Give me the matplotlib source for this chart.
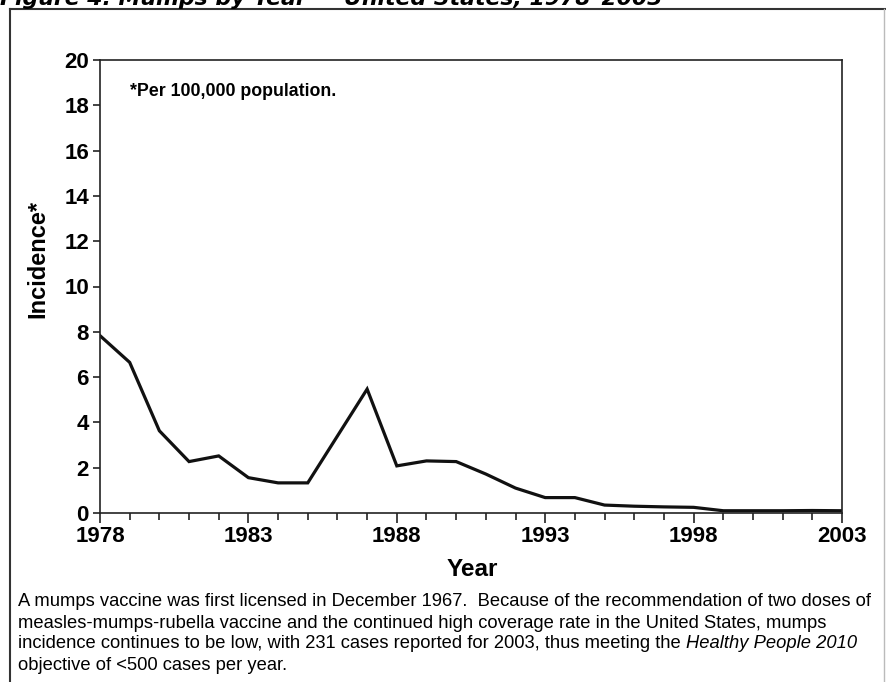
import matplotlib
matplotlib.use("Agg")
import matplotlib.pyplot as plt
from matplotlib.lines import Line2D

years = list(range(1978, 2004))
incidence = [7.83, 6.65, 3.63, 2.27, 2.52, 1.56, 1.33, 1.33, 3.4, 5.47,
             2.08, 2.3, 2.27, 1.72, 1.1, 0.68, 0.68, 0.35, 0.3, 0.27,
             0.25, 0.1, 0.1, 0.1, 0.11, 0.1]
major_years = [1978, 1983, 1988, 1993, 1998, 2003]
y_ticks = [0, 2, 4, 6, 8, 10, 12, 14, 16, 18, 20]

plt.rcParams['font.family'] = ['Liberation Sans', 'DejaVu Sans']

W, H = 887, 682
fig = plt.figure(figsize=(W / 100, H / 100), dpi=100)

def fx(px):
    return px / W

def fy(py):
    return 1 - py / H

ax = fig.add_axes([fx(100), fy(513), fx(842) - fx(100), fy(60) - fy(513)])
ax.plot(years, incidence, color='#111111', lw=2.3, solid_joinstyle='miter')
ax.set_xlim(1978, 2003)
ax.set_ylim(0, 20)
ax.set_xticks(years, minor=True)
ax.set_xticks(major_years)
ax.set_xticklabels([str(y) for y in major_years], fontsize=16, fontweight='bold')
ax.set_yticks(y_ticks)
ax.set_yticklabels([str(v) for v in y_ticks], fontsize=16, fontweight='bold')
ax.tick_params(axis='both', which='both', direction='out', length=5, width=1.2, color='#222222')
ax.tick_params(axis='x', which='major', length=7, pad=2)
ax.tick_params(axis='y', pad=3)
for s in ax.spines.values():
    s.set_linewidth(1.2)
    s.set_color('#222222')

ax.text(1979.0, 18.6, '*Per 100,000 population.', fontsize=12.8, fontweight='bold', va='center', ha='left')

fig.text(fx(38), fy(259), 'Incidence*', rotation=90, fontsize=17, fontweight='bold', ha='center', va='center')
fig.text(fx(472), fy(570), 'Year', fontsize=17.5, fontweight='bold', ha='center', va='center')

# caption
fs = 13.2
cap_lines = [
    "A mumps vaccine was first licensed in December 1967.  Because of the recommendation of two doses of",
    "measles-mumps-rubella vaccine and the continued high coverage rate in the United States, mumps",
]
cy = [602, 623, 644, 665]
for i, line in enumerate(cap_lines):
    fig.text(fx(18), fy(cy[i]), line, fontsize=fs, ha='left', va='center')
t1 = fig.text(fx(18), fy(cy[2]), "incidence continues to be low, with 231 cases reported for 2003, thus meeting the ",
              fontsize=fs, ha='left', va='center')
fig.canvas.draw()
bb = t1.get_window_extent()
fig.text(bb.x1 / W, fy(cy[2]), "Healthy People 2010", fontsize=fs, style='italic', ha='left', va='center')
fig.text(fx(18), fy(cy[3]), "objective of <500 cases per year.", fontsize=fs, ha='left', va='center')

# title (cut off at top)
fig.text(0.0, fy(5), "Figure 4. Mumps by Year \u2014 United States, 1978\u20132003",
         fontsize=15.8, fontweight='bold', style='italic', family='DejaVu Sans', ha='left', va='baseline')

# outer frame
fig.add_artist(Line2D([fx(10), fx(10)], [fy(9), 0], transform=fig.transFigure, color='#333333', lw=1.5))
fig.add_artist(Line2D([fx(10), 1], [fy(9), fy(9)], transform=fig.transFigure, color='#333333', lw=1.5))
fig.add_artist(Line2D([fx(884), fx(884)], [fy(9), 0], transform=fig.transFigure, color='#bbbbbb', lw=1))

fig.savefig('out.png', dpi=100)
